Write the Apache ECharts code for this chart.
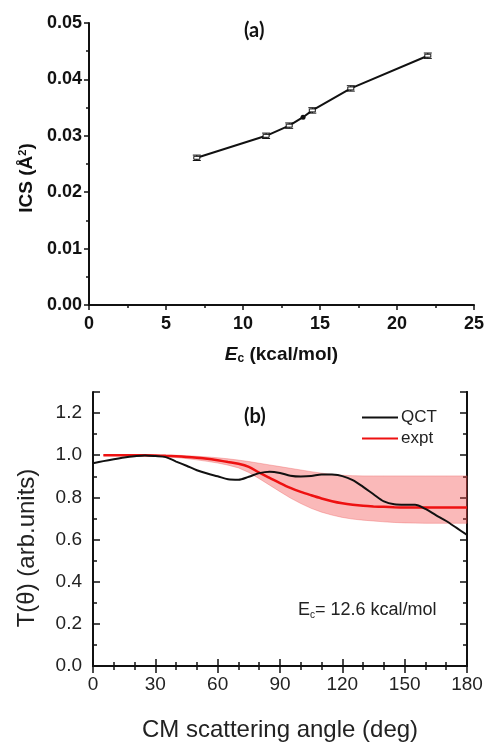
<!DOCTYPE html>
<html>
<head>
<meta charset="utf-8">
<script src="https://cdn.jsdelivr.net/npm/echarts@6/dist/echarts.min.js"></script>
<style>
  html, body { margin: 0; padding: 0; background: #fff; }
  #chart { width: 486px; height: 743px; }
</style>
</head>
<body>
<div id="chart"></div>
<script>
// (a) integral cross section vs collision energy
const energies = [7, 11.5, 13, 13.9, 14.5, 17, 22];
const ics = [0.0261, 0.0300, 0.0318, 0.0333, 0.0345, 0.0384, 0.0442];
const icsErr = [0.0003, 0.0003, 0.0003, 0, 0.0003, 0.0003, 0.0003];

// (b) angular distribution, QCT vs experiment
const qctAngles = [0, 5, 10, 15, 20, 25, 30, 35, 40, 45, 50, 55, 60, 65, 70, 75, 80, 85, 90,
  95, 100, 105, 110, 115, 120, 125, 130, 135, 140, 145, 150, 155, 160, 165, 170, 175, 180];
const qct = [0.962, 0.972, 0.981, 0.989, 0.995, 0.999, 0.996, 0.991, 0.970, 0.950, 0.929, 0.913,
  0.900, 0.886, 0.884, 0.898, 0.915, 0.922, 0.916, 0.903, 0.899, 0.901, 0.909, 0.908, 0.901,
  0.882, 0.850, 0.815, 0.781, 0.767, 0.765, 0.765, 0.745, 0.716, 0.688, 0.655, 0.622];

const exptAngles = [5, 10, 15, 20, 25, 30, 35, 40, 45, 50, 55, 60, 65, 70, 75, 80, 85, 90,
  95, 100, 105, 110, 115, 120, 125, 130, 135, 140, 145, 150, 155, 160, 165, 170, 175, 180];
const expt = [1.000, 1.000, 1.000, 1.000, 1.000, 0.999, 0.997, 0.995, 0.992, 0.988, 0.983, 0.976,
  0.968, 0.960, 0.945, 0.917, 0.893, 0.868, 0.845, 0.826, 0.810, 0.795, 0.782, 0.772, 0.765,
  0.760, 0.757, 0.755, 0.753, 0.752, 0.752, 0.752, 0.752, 0.752, 0.752, 0.752];
const exptHigh = [1.000, 1.000, 1.000, 1.000, 1.000, 1.000, 1.000, 1.000, 0.998, 0.995, 0.992, 0.988,
  0.983, 0.977, 0.970, 0.962, 0.954, 0.946, 0.938, 0.930, 0.922, 0.915, 0.909, 0.905, 0.903,
  0.902, 0.902, 0.902, 0.902, 0.902, 0.902, 0.902, 0.902, 0.902, 0.902, 0.902];
const exptLow = [1.000, 1.000, 0.999, 0.999, 0.998, 0.996, 0.993, 0.989, 0.984, 0.978, 0.971, 0.963,
  0.953, 0.940, 0.918, 0.889, 0.858, 0.827, 0.797, 0.771, 0.748, 0.730, 0.716, 0.705, 0.697,
  0.692, 0.688, 0.684, 0.681, 0.679, 0.678, 0.677, 0.677, 0.677, 0.677, 0.677];

const ARIAL = "'Liberation Sans', Arial, sans-serif";
const zip = (xs, ys) => xs.map((x, i) => [x, ys[i]]);

const chart = echarts.init(document.getElementById("chart"));

// one y axis of the lower frame (minor or major ticks, left or right)
const frameY = (position, interval, tickLen, withLabels) => ({
  type: "value",
  gridIndex: 1,
  position: position,
  min: 0,
  max: 1.3,
  interval: interval,
  axisLine: { show: withLabels || position === "right", lineStyle: { color: "#111", width: 2 } },
  axisTick: { show: true, inside: true, length: tickLen, lineStyle: { color: "#111", width: 1.5 } },
  axisLabel: withLabels
    ? {
        show: true,
        margin: 11,
        fontFamily: ARIAL,
        fontSize: 19,
        color: "#222",
        formatter: (v) => (Math.round(v * 10) % 2 === 0 ? v.toFixed(1) : ""),
      }
    : { show: false },
  splitLine: { show: false },
});

const frameX = (position, withLabels) => ({
  type: "value",
  gridIndex: 1,
  position: position,
  min: 0,
  max: 180,
  interval: 30,
  axisLine: { show: true, lineStyle: { color: "#111", width: 2 } },
  axisTick: { show: true, inside: true, length: 7, lineStyle: { color: "#111", width: 1.5 } },
  minorTick: { show: true, splitNumber: 3, length: 4, lineStyle: { color: "#111", width: 1.5 } },
  axisLabel: withLabels
    ? { show: true, margin: 9, fontFamily: ARIAL, fontSize: 19, color: "#222" }
    : { show: false },
  splitLine: { show: false },
});

const option = {
  animation: false,
  backgroundColor: "#fff",
  grid: [
    { left: 89, top: 23, width: 385, height: 282, outerBoundsMode: "none" },
    { left: 93, top: 392, width: 374, height: 274, outerBoundsMode: "none" },
  ],
  xAxis: [
    {
      type: "value",
      gridIndex: 0,
      min: 0,
      max: 25,
      interval: 5,
      name: "{it|E}{sub|c}{b| (kcal/mol)}",
      nameLocation: "middle",
      nameGap: 40,
      nameTextStyle: {
        rich: {
          it: { fontFamily: ARIAL, fontSize: 19, fontWeight: "bold", fontStyle: "italic", color: "#111" },
          sub: { fontFamily: ARIAL, fontSize: 12, fontWeight: "bold", color: "#111", verticalAlign: "bottom", padding: [8, 0, 0, 0] },
          b: { fontFamily: ARIAL, fontSize: 19, fontWeight: "bold", color: "#111" },
        },
      },
      axisLine: { lineStyle: { color: "#111", width: 2 } },
      axisTick: { length: 5, lineStyle: { color: "#111", width: 1.5 } },
      minorTick: { show: true, splitNumber: 2, length: 3, lineStyle: { color: "#111", width: 1.5 } },
      axisLabel: { margin: 10, fontFamily: ARIAL, fontSize: 18, fontWeight: "bold", color: "#111" },
      splitLine: { show: false },
    },
    Object.assign(frameX("bottom", true), {
      name: "CM scattering angle (deg)",
      nameLocation: "middle",
      nameGap: 52,
      nameTextStyle: { fontFamily: ARIAL, fontSize: 24, color: "#222" },
    }),
    frameX("top", false),
  ],
  yAxis: [
    {
      type: "value",
      gridIndex: 0,
      min: 0,
      max: 0.05,
      interval: 0.01,
      name: "ICS (Å{sup|2})",
      nameLocation: "middle",
      nameGap: 52,
      nameTextStyle: {
        fontFamily: ARIAL,
        fontSize: 19,
        fontWeight: "bold",
        color: "#111",
        padding: [0, 28, 0, 0],
        rich: {
          sup: { fontFamily: ARIAL, fontSize: 11, fontWeight: "bold", color: "#111", verticalAlign: "top", padding: [0, 0, 6, 0] },
        },
      },
      axisLine: { show: true, lineStyle: { color: "#111", width: 2 } },
      axisTick: { show: true, length: 5, lineStyle: { color: "#111", width: 1.5 } },
      minorTick: { show: true, splitNumber: 2, length: 3, lineStyle: { color: "#111", width: 1.5 } },
      axisLabel: {
        margin: 7,
        fontFamily: ARIAL,
        fontSize: 18,
        fontWeight: "bold",
        color: "#111",
        formatter: (v) => v.toFixed(2),
      },
      splitLine: { show: false },
    },
    Object.assign(frameY("left", 0.1, 4, true), {
      name: "T(θ) (arb.units)",
      nameLocation: "middle",
      nameGap: 54,
      nameTextStyle: { fontFamily: ARIAL, fontSize: 24, color: "#222", padding: [0, 38, 0, 0] },
    }),
    frameY("left", 0.2, 7, false),
    frameY("right", 0.1, 4, false),
    frameY("right", 0.2, 7, false),
  ],
  legend: {
    data: ["QCT", "expt"],
    orient: "vertical",
    left: 357,
    top: 404,
    icon: "rect",
    itemWidth: 36,
    itemHeight: 2,
    itemGap: 4,
    textStyle: { fontFamily: ARIAL, fontSize: 17, color: "#222", padding: [0, 0, 0, -2] },
  },
  graphic: [
    { type: "text", left: 244, top: 21, style: { text: "(a)", font: "bold 20px Lato, sans-serif", fill: "#111" } },
    { type: "text", left: 244, top: 407, style: { text: "(b)", font: "bold 20px Lato, sans-serif", fill: "#111" } },
    {
      type: "text",
      left: 298,
      top: 601,
      style: {
        text: "{n|E}{s|c}{n|= 12.6 kcal/mol}",
        rich: {
          n: { fontFamily: ARIAL, fontSize: 18, fill: "#222" },
          s: { fontFamily: ARIAL, fontSize: 10, fill: "#222", verticalAlign: "bottom", padding: [10, 0, 0, 0] },
        },
      },
    },
  ],
  series: [
    {
      name: "ICS",
      type: "line",
      xAxisIndex: 0,
      yAxisIndex: 0,
      data: zip(energies, ics),
      symbol: "none",
      lineStyle: { color: "#111", width: 2 },
      z: 2,
    },
    {
      name: "ICS error",
      type: "custom",
      xAxisIndex: 0,
      yAxisIndex: 0,
      data: energies.map((e, i) => [e, ics[i], icsErr[i]]),
      renderItem: (params, api) => {
        const x = api.value(0);
        const y = api.value(1);
        const err = api.value(2);
        const c = api.coord([x, y]);
        if (!err) {
          return { type: "circle", shape: { cx: c[0], cy: c[1], r: 2.5 }, style: { fill: "#111" } };
        }
        const lo = api.coord([x, y - err]);
        const hi = api.coord([x, y + err]);
        const w = 4;
        const s = { stroke: "#111", lineWidth: 1 };
        return {
          type: "group",
          children: [
            { type: "line", shape: { x1: c[0], y1: lo[1] + 1, x2: c[0], y2: hi[1] - 1 }, style: s },
            { type: "line", shape: { x1: c[0] - w, y1: lo[1] + 1, x2: c[0] + w, y2: lo[1] + 1 }, style: s },
            { type: "line", shape: { x1: c[0] - w, y1: hi[1] - 1, x2: c[0] + w, y2: hi[1] - 1 }, style: s },
            { type: "rect", shape: { x: c[0] - 3, y: c[1] - 1.5, width: 6, height: 3 }, style: { fill: "#fff", stroke: "#111", lineWidth: 1 } },
          ],
        };
      },
      z: 3,
    },
    {
      name: "band",
      type: "custom",
      xAxisIndex: 1,
      yAxisIndex: 1,
      data: exptAngles.map((a, i) => [a, exptLow[i], exptHigh[i]]),
      renderItem: (params, api) => {
        if (params.dataIndex !== 0) return;
        const upper = exptAngles.map((a, i) => api.coord([a, exptHigh[i]]));
        const lower = exptAngles.map((a, i) => api.coord([a, exptLow[i]])).reverse();
        return {
          type: "polygon",
          shape: { points: upper.concat(lower) },
          style: { fill: "rgba(240,60,60,0.36)", stroke: "rgba(235,90,90,0.45)", lineWidth: 0.8 },
        };
      },
      z: 1,
    },
    {
      name: "expt",
      type: "line",
      xAxisIndex: 1,
      yAxisIndex: 1,
      data: zip(exptAngles, expt),
      smooth: 0.3,
      symbol: "none",
      color: "#ee1111",
      lineStyle: { color: "#ee1111", width: 2.5 },
      z: 3,
    },
    {
      name: "QCT",
      type: "line",
      xAxisIndex: 1,
      yAxisIndex: 1,
      data: zip(qctAngles, qct),
      smooth: 0.3,
      symbol: "none",
      color: "#111",
      lineStyle: { color: "#111", width: 2 },
      z: 4,
    },
  ],
};

chart.setOption(option);
</script>
</body>
</html>
